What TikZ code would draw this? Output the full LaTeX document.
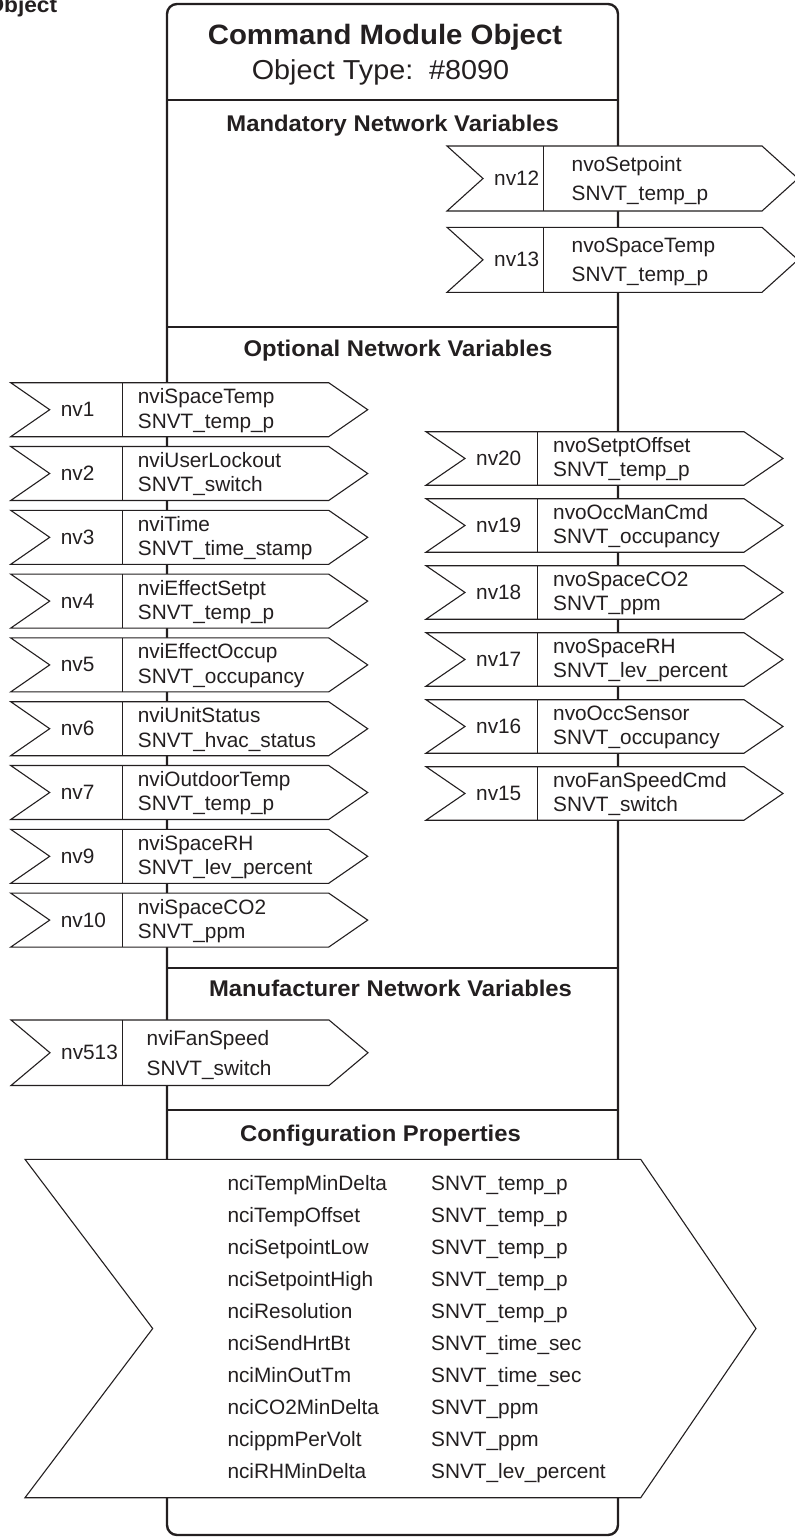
\documentclass[tikz,border=0pt]{standalone}
\usepackage{fontspec}
\setmainfont{Liberation Sans}
\newfontfamily\headfont{Liberation Sans}[FakeStretch=1.05]
\usepackage{tikz}
\usetikzlibrary{positioning}
\definecolor{ink}{HTML}{231F20}

% geometry of the variable arrows, reset per group
\def\nvw{357}
\def\nvn{38}
\def\nvdiv{111.5}
\def\nvtxt{15.5}
\newcommand{\nvar}[7]{%
  \draw[nvline] (#2,#3) -- ({#2+\nvw-\nvn},#3) -- ({#2+\nvw},{#3+#4/2}) -- ({#2+\nvw-\nvn},{#3+#4})
    -- (#2,{#3+#4}) -- ({#2+\nvn},{#3+#4/2}) -- cycle;
  \draw[nvline] ({#2+\nvdiv},#3) -- ({#2+\nvdiv},{#3+#4});
  \node[nvtext, anchor=west] (#1) at ({#2+\nvn+11},{#3+#4/2}) {#5};
  \node[nvtext, anchor=base west] (#1var) at ({#2+\nvdiv+\nvtxt},{#3+0.39*#4}) {#6};
  \node[nvtext, anchor=base west] (#1type) at ({#2+\nvdiv+\nvtxt},{#3+0.84*#4}) {#7};
}

\begin{document}
\begin{tikzpicture}[x=1pt,y=-1pt,
  mainline/.style={draw=ink, line width=2.4pt},
  nvline/.style={draw=ink, fill=white, line width=1.1pt, line join=miter},
  nvtext/.style={text=ink, font=\fontsize{20.8}{25}\selectfont},
  headtext/.style={text=ink, anchor=base, font=\headfont\bfseries\fontsize{22.7}{27}\selectfont}]
\tikzstyle{every node}+=[inner sep=0pt]
\useasboundingbox (0,0) rectangle (795,1537);

\node[text=ink, anchor=base east, font=\headfont\bfseries\fontsize{21.6}{26}\selectfont] (cut) at (57.3,12.7) {Object};

\draw[mainline, rounded corners=10pt] (167,4) rectangle (618,1535);
\draw[mainline] (167,100) -- (618,100);
\draw[mainline] (167,326.7) -- (618,326.7);
\draw[mainline] (167,967.7) -- (618,967.7);
\draw[mainline] (167,1110) -- (618,1110);

\node[text=ink, anchor=base, font=\headfont\bfseries\fontsize{28}{33}\selectfont] (title) at (385,44.3) {Command Module Object};
\node[text=ink, anchor=base, font=\headfont\fontsize{27.4}{33}\selectfont] (otype) at (380.5,79.3) {Object Type:\ \ \#8090};

\node[headtext] (mand) at (392.7,131) {Mandatory Network Variables};
\node[headtext] (opt) at (398,356) {Optional Network Variables};
\node[headtext] (manu) at (390.5,996.7) {Manufacturer Network Variables};
\node[headtext] (conf) at (380.5,1141.7) {Configuration Properties};

\def\nvw{351}\def\nvn{36}\def\nvdiv{96.5}\def\nvtxt{28}
\nvar{nv12}{447}{146}{65}{nv12}{nvoSetpoint}{SNVT\_temp\_p}
\nvar{nv13}{447}{227.3}{65}{nv13}{nvoSpaceTemp}{SNVT\_temp\_p}

\def\nvw{357}\def\nvn{39}\def\nvdiv{111.5}\def\nvtxt{15.5}
\nvar{nv1}{10.7}{382.7}{54}{nv1}{nviSpaceTemp}{SNVT\_temp\_p}
\nvar{nv2}{10.7}{446.5}{54}{nv2}{nviUserLockout}{SNVT\_switch}
\nvar{nv3}{10.7}{510.3}{54}{nv3}{nviTime}{SNVT\_time\_stamp}
\nvar{nv4}{10.7}{574.1}{54}{nv4}{nviEffectSetpt}{SNVT\_temp\_p}
\nvar{nv5}{10.7}{637.9}{54}{nv5}{nviEffectOccup}{SNVT\_occupancy}
\nvar{nv6}{10.7}{701.7}{54}{nv6}{nviUnitStatus}{SNVT\_hvac\_status}
\nvar{nv7}{10.7}{765.5}{54}{nv7}{nviOutdoorTemp}{SNVT\_temp\_p}
\nvar{nv9}{10.7}{829.3}{54}{nv9}{nviSpaceRH}{SNVT\_lev\_percent}
\nvar{nv10}{10.7}{893.1}{54}{nv10}{nviSpaceCO2}{SNVT\_ppm}

\nvar{nv20}{426}{431.7}{53.5}{nv20}{nvoSetptOffset}{SNVT\_temp\_p}
\nvar{nv19}{426}{498.7}{53.5}{nv19}{nvoOccManCmd}{SNVT\_occupancy}
\nvar{nv18}{426}{565.7}{53.5}{nv18}{nvoSpaceCO2}{SNVT\_ppm}
\nvar{nv17}{426}{632.7}{53.5}{nv17}{nvoSpaceRH}{SNVT\_lev\_percent}
\nvar{nv16}{426}{699.7}{53.5}{nv16}{nvoOccSensor}{SNVT\_occupancy}
\nvar{nv15}{426}{766.7}{53.5}{nv15}{nvoFanSpeedCmd}{SNVT\_switch}

\def\nvtxt{24}
\nvar{nv513}{11}{1020}{65.5}{nv513}{nviFanSpeed}{SNVT\_switch}

\draw[nvline] (25,1159.3) -- (640.7,1159.3) -- (756,1328.5) -- (640.7,1497.7)
  -- (25,1497.7) -- (152.7,1328.5) -- cycle;
\foreach \cpname/\cptype [count=\i] in {nciTempMinDelta/SNVT\_temp\_p, nciTempOffset/SNVT\_temp\_p,
    nciSetpointLow/SNVT\_temp\_p, nciSetpointHigh/SNVT\_temp\_p, nciResolution/SNVT\_temp\_p,
    nciSendHrtBt/SNVT\_time\_sec, nciMinOutTm/SNVT\_time\_sec, nciCO2MinDelta/SNVT\_ppm,
    ncippmPerVolt/SNVT\_ppm, nciRHMinDelta/SNVT\_lev\_percent} {
  \node[nvtext, anchor=base west] (cpn\i) at (227.3,{1190+(\i-1)*32.03}) {\cpname};
  \node[nvtext, anchor=base west] (cpt\i) at (431,{1190+(\i-1)*32.03}) {\cptype};
}
\end{tikzpicture}
\end{document}
